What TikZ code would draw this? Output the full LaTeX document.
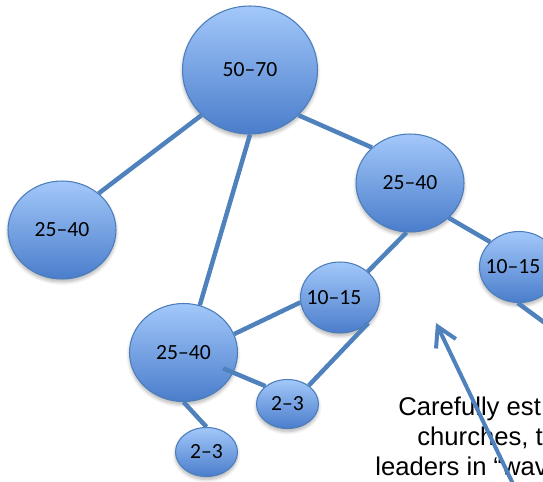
\documentclass[tikz,border=0pt]{standalone}
\usepackage{fontspec}
\setmainfont{Carlito}
\newfontfamily\captionfont{Liberation Sans}
\usetikzlibrary{shapes.geometric,arrows.meta,shadows.blur}
\definecolor{nodetop}{HTML}{A3C8FA}
\definecolor{nodebottom}{HTML}{4A7DCB}
\definecolor{nodeline}{HTML}{4B7DBB}
\definecolor{linkblue}{HTML}{4F81BD}

\begin{document}
\begin{tikzpicture}[x=0.02cm, y=-0.02cm,
  every node/.style={font=\fontsize{12.3}{14}\selectfont},
  church/.style={ellipse, draw=nodeline, line width=0.6pt, top color=nodetop, bottom color=nodebottom,
    inner sep=0pt, blur shadow={shadow xshift=0pt, shadow yshift=-0.06cm, shadow blur steps=6, shadow opacity=30}},
  size50/.style={church, minimum width=2.70cm, minimum height=2.56cm},
  size25/.style={church, minimum width=2.16cm, minimum height=1.96cm},
  size10/.style={church, minimum width=1.58cm, minimum height=1.42cm},
  size2/.style={church, minimum width=1.24cm, minimum height=0.98cm},
  link/.style={draw=linkblue, line width=0.09cm},
  caption/.style={anchor=base west, inner sep=0pt, font=\captionfont\fontsize{14.6}{17}\selectfont}]
  \useasboundingbox (0,0) rectangle (543,482);
  \clip (0,0) rectangle (543,482);
  \node[size50] (top) at (250,70) {50–70};
  \node[size25] (left) at (62,230) {25–40};
  \node[size25] (upper) at (410,183) {25–40};
  \node[size10] (right) at (519,267) {\kern-0.24cm10–15};
  \node[size10] (middle) at (340,297.5) {\kern-0.24cm10–15};
  \node[size25] (lower) at (183.5,352.5) {25–40};
  \node[size2] (small) at (287.5,404) {2–3};
  \node[size2] (bottom) at (206.5,452) {2–3};
  \coordinate (offright) at (575,345);
  \draw[link] (top.223) -- (left.45);
  \draw[link] (top.270) -- (lower.71);
  \draw[link] (top.317) -- (upper.137);
  \draw[link] (upper.266) -- (middle.43);
  \draw[link] (upper.318) -- (right.139);
  \draw[link] (right.268) -- (offright);
  \draw[link] (middle.187) -- (lower.20);
  \draw[link] (middle.318) -- (small.41);
  \draw[link, shorten <=-0.22cm] (lower.338) -- (small.141);
  \draw[link] (lower.270) -- (bottom.90);
  \node[caption] (line1) at (398,415) {Carefully est};
  \node[caption] (line2) at (417,445) {churches, t};
  \node[caption] (line3) at (375,475) {leaders in “wav};
  \coordinate (arrowtail) at (514,486);
  \coordinate (arrowtip) at (436,323);
  \draw[link, line width=0.08cm, -{Straight Barb[length=0.38cm, width=0.44cm]}] (arrowtail) -- (arrowtip);
\end{tikzpicture}
\end{document}
